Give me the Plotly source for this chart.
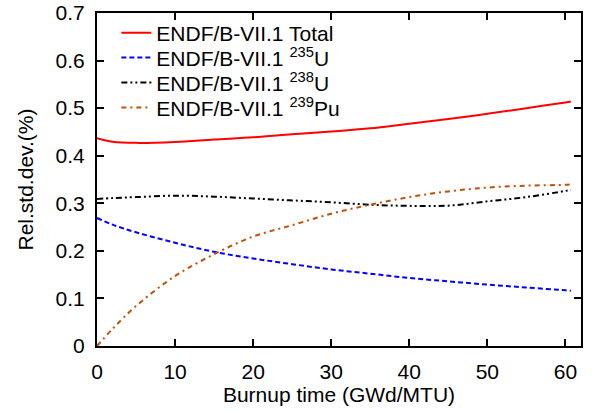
import plotly.graph_objects as go

burnup = [0, 2, 5, 10, 15, 20, 25, 30, 35, 40, 45, 50, 55, 60, 60.7]
total = [0.437, 0.4295, 0.427, 0.429, 0.434, 0.4386, 0.445, 0.451, 0.4575, 0.4674, 0.477, 0.488, 0.500, 0.512, 0.514]
u235 = [0.269, 0.255, 0.239, 0.217, 0.198, 0.184, 0.172, 0.161, 0.152, 0.143, 0.136, 0.129, 0.123, 0.117, 0.116]
u238 = [0.309, 0.311, 0.313, 0.316, 0.314, 0.310, 0.306, 0.302, 0.297, 0.2946, 0.295, 0.304, 0.313, 0.326, 0.328]
pu239 = [0.0, 0.036, 0.084, 0.147, 0.193, 0.230, 0.254, 0.278, 0.297, 0.313, 0.325, 0.333, 0.337, 0.339, 0.340]

names = ["ENDF/B-VII.1 Total", "ENDF/B-VII.1 <sup>235</sup>U",
         "ENDF/B-VII.1 <sup>238</sup>U", "ENDF/B-VII.1 <sup>239</sup>Pu"]
series = [total, u235, u238, pu239]
colors = ["#ff0000", "#0000ff", "#000000", "#c0500a"]
dashes = ["solid", "5px,3px", "6px,3px,2px,3px,2px,3px", "5px,4px,2px,4px"]
legend_ids = ["legend", "legend2", "legend3", "legend4"]

FONT = "Liberation Sans, Arial, sans-serif"

fig = go.Figure()
for nm, ys, c, d, lg in zip(names, series, colors, dashes, legend_ids):
    fig.add_trace(go.Scatter(x=burnup, y=ys, mode="lines", name=nm, legend=lg,
                             line=dict(color=c, width=2, dash=d, shape="spline")))

axis_common = dict(showline=True, linecolor="black", linewidth=2, mirror="ticks",
                   ticks="inside", ticklen=7, tickwidth=1.5, tickcolor="black",
                   showgrid=False, zeroline=False, automargin=False,
                   tickfont=dict(family=FONT, size=21, color="black"))

# legend rows (paper y of each row centre)
row_y = [0.94, 0.865, 0.79, 0.715]
legend_layout = {}
for lg, ry in zip(legend_ids, row_y):
    legend_layout[lg] = dict(x=0.04, y=ry, xanchor="left", yanchor="middle",
                             bgcolor="rgba(0,0,0,0)", borderwidth=0,
                             font=dict(family=FONT, size=21, color="black"),
                             itemwidth=30)

fig.update_layout(
    width=593, height=412,
    margin=dict(l=97, r=12, t=13, b=66),
    paper_bgcolor="white", plot_bgcolor="white",
    font=dict(family=FONT, size=21, color="black"),
    xaxis=dict(range=[0, 62], tickvals=[0, 10, 20, 30, 40, 50, 60],
               ticktext=["0", "10", "20", "30", "40", "50", "60"], tickmode="array",
               ticklabelstandoff=6,
               title=dict(text="Burnup time (GWd/MTU)", standoff=5,
                          font=dict(size=21)), **axis_common),
    yaxis=dict(range=[0, 0.7], tickvals=[0, 0.1, 0.2, 0.3, 0.4, 0.5, 0.6, 0.7],
               ticktext=["0", "0.1", "0.2", "0.3", "0.4", "0.5", "0.6", "0.7"],
               tickmode="array", ticklabelstandoff=6,
               title=dict(text="Rel.std.dev.(%)", standoff=16, font=dict(size=21)),
               **axis_common),
    showlegend=True,
    **legend_layout,
)

fig.write_html("out.html")
